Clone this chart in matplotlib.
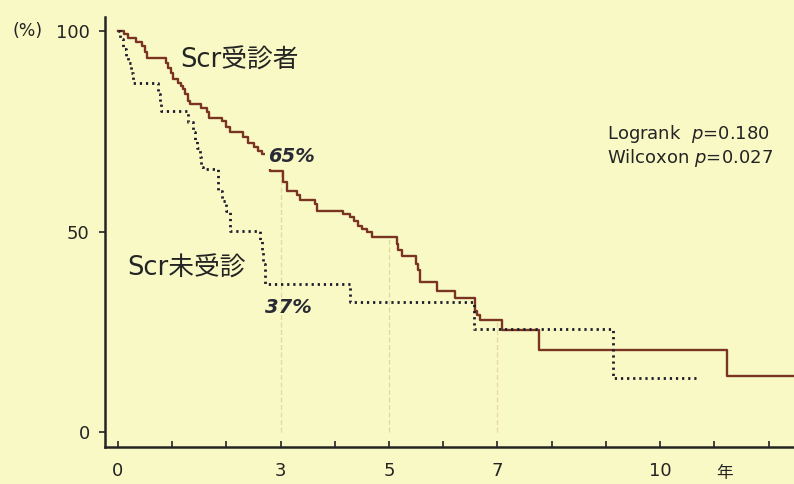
import matplotlib
matplotlib.use("Agg")
import matplotlib.pyplot as plt
import numpy as np

plt.rcParams['font.family'] = ['DejaVu Sans', 'Noto Sans CJK JP']
plt.rcParams['mathtext.fontset'] = 'dejavusans'

# Kaplan-Meier survival curves (years, % surviving after each step)
screened_t = [0, 0.11, 0.19, 0.34, 0.44, 0.50, 0.53, 0.88, 0.92, 0.98, 1.02, 1.11,
              1.17, 1.20, 1.24, 1.30, 1.33, 1.54, 1.64, 1.67, 1.91, 2.00, 2.07, 2.31,
              2.40, 2.50, 2.59, 2.65, 2.80, 3.05, 3.11, 3.30, 3.36, 3.63, 3.67, 4.16,
              4.28, 4.36, 4.42, 4.50, 4.59, 4.68, 5.14, 5.17, 5.23, 5.50, 5.54, 5.57,
              5.88, 6.22, 6.59, 6.62, 6.68, 7.08, 7.76, 11.23, 12.6]
screened_s = [100, 99.2, 98.2, 97.3, 96.3, 94.8, 93.2, 92.1, 90.8, 89.6, 88.0, 87.1,
              86.3, 85.5, 84.3, 82.6, 81.7, 80.9, 79.7, 78.4, 77.6, 76.1, 74.7, 73.5,
              72.2, 71.0, 70.1, 69.3, 65.0, 62.3, 60.2, 59.0, 57.9, 56.9, 55.2, 54.4,
              53.6, 52.7, 51.5, 50.7, 49.8, 48.6, 47.0, 45.3, 44.0, 42.0, 40.3, 37.4,
              35.3, 33.5, 30.3, 29.1, 27.9, 25.4, 20.4, 13.9, 13.9]

unscreened_t = [0, 0.03, 0.10, 0.15, 0.19, 0.24, 0.27, 0.74, 0.77, 0.80, 1.30, 1.39,
                1.42, 1.45, 1.51, 1.54, 1.57, 1.85, 1.91, 2.00, 2.07, 2.62, 2.65, 2.68,
                2.72, 4.28, 6.56, 9.14, 10.68]
unscreened_s = [100, 98.0, 95.5, 93.8, 92.1, 89.6, 87.1, 84.3, 82.2, 80.1, 77.4, 74.9,
                72.9, 70.8, 68.7, 66.2, 65.6, 60.0, 57.7, 55.2, 50.2, 47.8, 45.3, 41.9,
                37.0, 32.4, 25.8, 13.4, 13.4]

x_ticks = list(range(13))
x_labels = ['0', '', '', '3', '', '5', '', '7', '', '', '10', '', '']
y_ticks = [0, 50, 100]
ref_years = [3, 5, 7]
ann_screened = ("65%", 3, 65.0)
ann_unscreened = ("37%", 3, 37.0)

bg = '#f9f9c6'
ink = '#242424'
brown = '#7a3522'

fig = plt.figure(figsize=(7.94, 4.84), dpi=100, facecolor=bg)
ax = fig.add_axes([0.1322, 0.0764, 0.8678, 0.8886], facecolor=bg)

# faint guide lines at the landmark years
for yr in ref_years:
    idx = np.searchsorted(screened_t, yr, side='right') - 1
    ax.plot([yr, yr], [0, screened_s[idx]], color='#e4d69e', lw=0.9,
            ls=(0, (4, 2)), zorder=1)

ax.step(screened_t, screened_s, where='post', color=brown, lw=1.7, zorder=3)
ax.step(unscreened_t, unscreened_s, where='post', color='#1c1c2c', lw=2.0,
        ls=(0, (0.8, 1.4)), zorder=3)

ax.set_xlim(-0.24, 12.47)
ax.set_ylim(-3.7, 103.5)

for s in ['top', 'right']:
    ax.spines[s].set_visible(False)
for s in ['left', 'bottom']:
    ax.spines[s].set_color(ink)
    ax.spines[s].set_linewidth(1.8)

ax.set_xticks(x_ticks)
ax.set_xticklabels(x_labels)
ax.set_yticks(y_ticks)
ax.set_yticklabels([str(v) for v in y_ticks])
ax.tick_params(axis='x', direction='in', length=4, width=1.2, color=ink,
               labelsize=13, labelcolor=ink, pad=11)
ax.tick_params(axis='y', direction='out', length=4, width=1.2, color=ink,
               labelsize=13, labelcolor=ink, pad=7)

ax.text(1.14, 92.5, 'Scr受診者', fontsize=18.5, color=ink, ha='left', va='center')
ax.text(0.18, 40.8, 'Scr未受診', fontsize=18.5, color=ink, ha='left', va='center')

txt, tx, ty = ann_screened
ax.text(2.77, 68.6, txt, fontsize=14, style='italic', fontweight='bold',
        color='#2a2a35', ha='left', va='center', zorder=4,
        bbox=dict(boxstyle='square,pad=0.15', fc=bg, ec='none'))
txt, tx, ty = ann_unscreened
ax.text(2.71, 31.0, txt, fontsize=14, style='italic', fontweight='bold',
        color='#2a2a35', ha='left', va='center', zorder=4)

ax.text(9.02, 74.4, 'Logrank  $\\it{p}$=0.180', fontsize=13, color=ink,
        ha='left', va='center')
ax.text(9.02, 68.4, 'Wilcoxon $\\it{p}$=0.027', fontsize=13, color=ink,
        ha='left', va='center')

fig.text(12 / 794, 1 - 31 / 484, '(%)', fontsize=12.5, color=ink, ha='left', va='center')
fig.text(725 / 794, 1 - 473 / 484, '年', fontsize=12, color=ink, ha='center', va='center')

fig.savefig('out.png', dpi=100, facecolor=bg)
